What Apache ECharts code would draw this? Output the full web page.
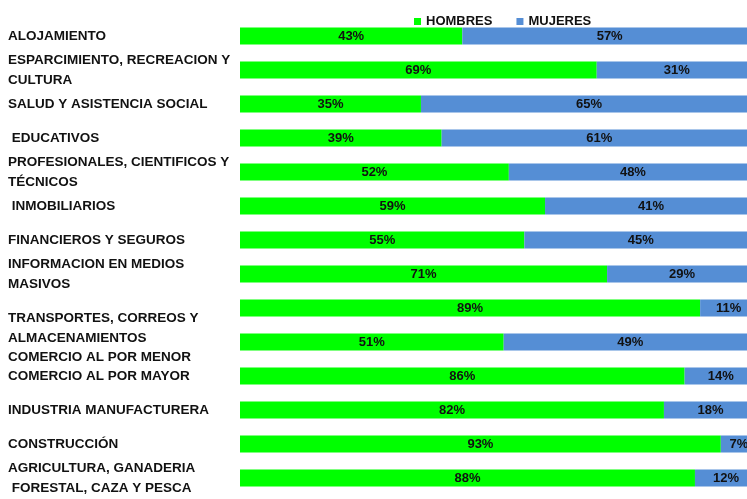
<!DOCTYPE html>
<html><head><meta charset="utf-8">
<script src="https://cdn.jsdelivr.net/npm/echarts@6/dist/echarts.min.js"></script>
<style>html,body{margin:0;padding:0;background:#fff}#c{width:747px;height:499px}</style>
</head><body><div id="c"></div>
<script>
const categories = [
  "ALOJAMIENTO",
  "ESPARCIMIENTO, RECREACION Y\nCULTURA",
  "SALUD Y ASISTENCIA SOCIAL",
  " EDUCATIVOS",
  "PROFESIONALES, CIENTIFICOS Y\nTÉCNICOS",
  " INMOBILIARIOS",
  "FINANCIEROS Y SEGUROS",
  "INFORMACION EN MEDIOS\nMASIVOS",
  "TRANSPORTES, CORREOS Y\nALMACENAMIENTOS",
  "COMERCIO AL POR MENOR",
  "COMERCIO AL POR MAYOR",
  "INDUSTRIA MANUFACTURERA",
  "CONSTRUCCIÓN",
  "AGRICULTURA, GANADERIA\n FORESTAL, CAZA Y PESCA"
];
const hombres = [43, 69, 35, 39, 52, 59, 55, 71, 89, 51, 86, 82, 93, 88];
const mujeres = [57, 31, 65, 61, 48, 41, 45, 29, 11, 49, 14, 18, 7, 12];
const seriesNames = ["HOMBRES", "MUJERES"];

const chart = echarts.init(document.getElementById('c'), null, {renderer: 'canvas'});
const font = "'Liberation Sans', Arial, sans-serif";
const lbl = {
  show: true, position: 'inside', formatter: '{c}%',
  fontFamily: font, fontWeight: 'bold', fontSize: 13, color: '#111'
};
// presentation-only vertical tweaks of some axis labels
const fmtLabel = (v, i) => {
  if (i === 8) return '\n\n' + v;
  if (i === 9) return '{sp| }\n{t|' + v + '}';
  return v;
};
chart.setOption({
  animation: false,
  legend: {
    data: seriesNames, top: 10, left: 409, itemWidth: 7, itemHeight: 7, itemGap: 24,
    icon: 'rect',
    textStyle: {fontFamily: font, fontWeight: 'bold', fontSize: 13, color: '#111'}
  },
  grid: {left: 240, width: 517, top: 19, bottom: 4, outerBoundsMode: 'none'},
  xAxis: {type: 'value', min: 0, max: 100, show: false},
  yAxis: {
    type: 'category', data: categories, inverse: true,
    axisLine: {show: false}, axisTick: {show: false},
    axisLabel: {
      align: 'left', margin: 232, interval: 0,
      fontFamily: font, fontWeight: 'bold', fontSize: 13.5, color: '#111', lineHeight: 20,
      formatter: fmtLabel,
      rich: {
        sp: {lineHeight: 30, fontSize: 13.5},
        t: {lineHeight: 20, fontSize: 13.5, fontWeight: 'bold', fontFamily: font, color: '#111'}
      }
    }
  },
  series: [
    {name: seriesNames[0], type: 'bar', stack: 't', data: hombres, barWidth: 17,
     itemStyle: {color: '#00FF00'}, label: lbl},
    {name: seriesNames[1], type: 'bar', stack: 't', data: mujeres, barWidth: 17,
     itemStyle: {color: '#558ED5'}, label: lbl}
  ]
});
</script></body></html>
